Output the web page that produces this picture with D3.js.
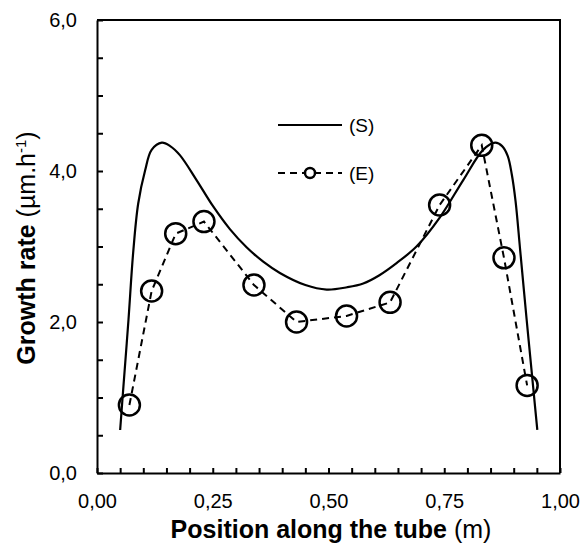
<!DOCTYPE html>
<html>
<head>
<meta charset="utf-8">
<script src="https://cdn.jsdelivr.net/npm/d3@7"></script>
<style>
  body { margin: 0; background: #fff; }
  text { font-family: "Liberation Sans", Arial, sans-serif; fill: #000; }
</style>
</head>
<body>
<div id="chart"></div>
<script>
// simulated growth rate (S)
const simX = [0.050, 0.057, 0.068, 0.078, 0.089, 0.104, 0.118, 0.140, 0.158, 0.179, 0.215, 0.251, 0.287, 0.323, 0.359, 0.395, 0.450, 0.496, 0.540, 0.575, 0.610, 0.647, 0.690, 0.741, 0.791, 0.834, 0.860, 0.875, 0.887, 0.896, 0.904, 0.914, 0.928, 0.942, 0.951];
const simY = [0.57, 1.14, 2.03, 2.91, 3.57, 4.01, 4.28, 4.375, 4.33, 4.21, 3.88, 3.53, 3.23, 2.99, 2.80, 2.65, 2.49, 2.43, 2.46, 2.51, 2.62, 2.78, 3.00, 3.39, 3.88, 4.28, 4.375, 4.33, 4.20, 3.95, 3.60, 2.95, 2.03, 1.14, 0.57];

// experimental growth rate (E)
const expX = [0.070, 0.118, 0.170, 0.231, 0.339, 0.431, 0.539, 0.633, 0.740, 0.831, 0.879, 0.929];
const expY = [0.90, 2.41, 3.17, 3.33, 2.49, 2.00, 2.08, 2.26, 3.55, 4.34, 2.85, 1.16];

const xTickLabels = [0, 0.25, 0.5, 0.75, 1];
const yTickLabels = [0, 2, 4, 6];
const seriesNames = ['(S)', '(E)'];

const width = 585, height = 549;
const margin = { top: 20, right: 25, bottom: 76, left: 97 };
const w = width - margin.left - margin.right;
const h = height - margin.top - margin.bottom;

const loc = d3.formatLocale({ decimal: ',', thousands: '.', grouping: [3], currency: ['', ''] });
const fx = loc.format('.2f');
const fy = loc.format('.1f');

const svg = d3.select('#chart').append('svg')
  .attr('width', width)
  .attr('height', height);

const g = svg.append('g')
  .attr('transform', `translate(${margin.left},${margin.top})`);

const x = d3.scaleLinear().domain([0, 1]).range([0, w]);
const y = d3.scaleLinear().domain([0, 6]).range([h, 0]);

const xTicks = d3.range(0, 21).map(i => i * 0.05);
const yTicks = d3.range(0, 13).map(i => i * 0.5);
const isLabel = (list, v) => list.some(t => Math.abs(t - v) < 1e-6);

// axes (ticks point inward)
const xAxis = g.append('g')
  .attr('transform', `translate(0,${h})`)
  .call(d3.axisBottom(x)
    .tickValues(xTicks)
    .tickSizeInner(-5)
    .tickSizeOuter(0)
    .tickPadding(21)
    .tickFormat(d => isLabel(xTickLabels, d) ? fx(d) : ''));

const yAxis = g.append('g')
  .call(d3.axisLeft(y)
    .tickValues(yTicks)
    .tickSizeInner(-6)
    .tickSizeOuter(0)
    .tickPadding(20)
    .tickFormat(d => isLabel(yTickLabels, d) ? fy(d) : ''));

[xAxis, yAxis].forEach(a => {
  a.select('.domain').attr('stroke', '#000').attr('stroke-width', 2);
  a.selectAll('.tick line').attr('stroke', '#000').attr('stroke-width', 2);
  a.selectAll('.tick text').style('font-size', '20px').style('font-family', '"Liberation Sans", Arial, sans-serif');
});

// top and right frame
g.append('path')
  .attr('d', `M0,0H${w}V${h}`)
  .attr('fill', 'none')
  .attr('stroke', '#000')
  .attr('stroke-width', 2);

// simulated curve
const simData = simX.map((d, i) => ({ x: d, y: simY[i] }));
g.append('path')
  .datum(simData)
  .attr('fill', 'none')
  .attr('stroke', '#000')
  .attr('stroke-width', 2.2)
  .attr('d', d3.line().x(d => x(d.x)).y(d => y(d.y)).curve(d3.curveCatmullRom.alpha(0.5)));

// experimental points
const expData = expX.map((d, i) => ({ x: d, y: expY[i] }));
g.append('path')
  .datum(expData)
  .attr('fill', 'none')
  .attr('stroke', '#000')
  .attr('stroke-width', 2)
  .attr('stroke-dasharray', '7,5')
  .attr('d', d3.line().x(d => x(d.x)).y(d => y(d.y)));

g.selectAll('.pt')
  .data(expData)
  .enter().append('circle')
  .attr('class', 'pt')
  .attr('cx', d => x(d.x))
  .attr('cy', d => y(d.y))
  .attr('r', 10.5)
  .attr('fill', 'none')
  .attr('stroke', '#000')
  .attr('stroke-width', 2.5);

// legend
const lg = svg.append('g');
lg.append('line')
  .attr('x1', 278).attr('x2', 342).attr('y1', 125).attr('y2', 125)
  .attr('stroke', '#000').attr('stroke-width', 2.2);
lg.append('text').attr('x', 349).attr('y', 132).style('font-size', '19px').text(seriesNames[0]);
lg.append('line')
  .attr('x1', 278).attr('x2', 342).attr('y1', 173).attr('y2', 173)
  .attr('stroke', '#000').attr('stroke-width', 2).attr('stroke-dasharray', '7,5');
lg.append('circle')
  .attr('cx', 310).attr('cy', 173).attr('r', 5)
  .attr('fill', '#fff').attr('stroke', '#000').attr('stroke-width', 2.5);
lg.append('text').attr('x', 349).attr('y', 180).style('font-size', '19px').text(seriesNames[1]);

// axis titles
const xt = svg.append('text')
  .attr('x', 331)
  .attr('y', 538)
  .attr('text-anchor', 'middle')
  .style('font-size', '25px');
xt.append('tspan').style('font-weight', 'bold').text('Position along the tube ');
xt.append('tspan').text('(m)');

const yt = svg.append('text')
  .attr('transform', 'translate(35,248) rotate(-90)')
  .attr('text-anchor', 'middle')
  .style('font-size', '25px');
yt.append('tspan').style('font-weight', 'bold').text('Growth rate ');
yt.append('tspan').text('(µm.h');
yt.append('tspan').attr('dy', -9).style('font-size', '15px').text('-1');
yt.append('tspan').attr('dy', 9).text(')');
</script>
</body>
</html>
